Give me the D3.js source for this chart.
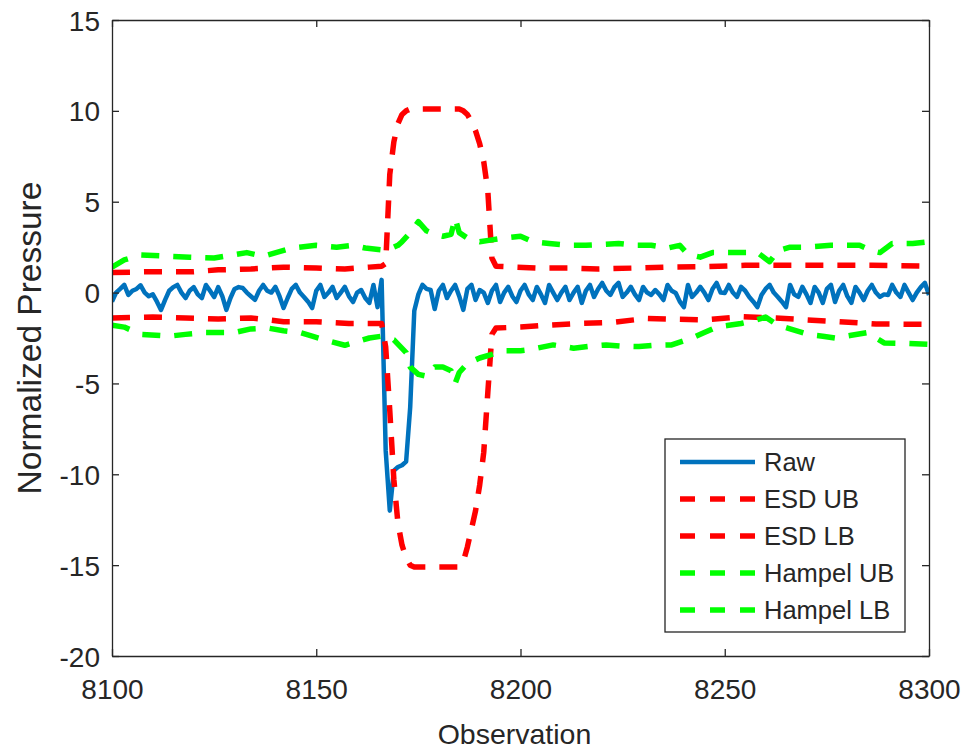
<!DOCTYPE html>
<html>
<head>
<meta charset="utf-8">
<script src="https://cdn.jsdelivr.net/npm/d3@7/dist/d3.min.js"></script>
<style>
  body { margin: 0; background: #fff; }
  svg text { font-family: "Liberation Sans", Arial, Helvetica, sans-serif; fill: #262626; }
  .axis path, .axis line { stroke: #262626; stroke-width: 1.3; }
</style>
</head>
<body>
<div id="chart"></div>
<script>

// observations 8100 .. 8300, one raw reading each
var startObs = 8100;

var rawValues = [
  -0.5, 0.0, 0.2, 0.42, -0.13, 0.1, 0.2, 0.4, 0.0, -0.2,
  -0.1, -0.5, -0.96, -0.4, 0.1, 0.3, 0.42, 0.0, -0.3, 0.1,
  0.3, -0.1, -0.3, 0.42, 0.1, -0.25, 0.3, -0.2, -0.95, -0.3,
  0.2, 0.3, 0.25, 0.0, -0.2, -0.4, 0.1, 0.42, 0.1, 0.0,
  0.31, -0.2, -0.85, -0.3, 0.2, 0.42, 0.0, -0.24, -0.5, -0.85,
  0.1, 0.42, -0.24, 0.0, 0.31, -0.3, 0.0, 0.31, -0.2, -0.52,
  0.0, 0.14, -0.3, -0.57, 0.42, -0.8, 0.7, -8.7, -12.0, -9.8,
  -9.6, -9.5, -9.3, -6.3, -1.0, -0.1, 0.42, 0.2, 0.14, -0.9,
  0.1, 0.42, -0.3, 0.1, 0.42, -0.2, -0.95, 0.2, 0.42, -0.41,
  0.14, 0.0, -0.57, 0.1, 0.42, -0.52, 0.0, 0.31, -0.2, -0.52,
  0.1, 0.42, -0.1, -0.41, 0.31, -0.1, -0.57, 0.42, 0.0, -0.41,
  0.0, 0.31, -0.41, 0.0, 0.31, -0.57, 0.1, 0.42, -0.24, 0.2,
  0.53, 0.1, -0.13, 0.3, 0.53, -0.24, 0.0, 0.31, -0.1, -0.41,
  0.31, 0.0, -0.13, 0.14, -0.1, -0.41, 0.42, 0.1, -0.02, -0.5,
  -0.8, 0.42, -0.24, 0.0, 0.31, 0.0, -0.41, 0.2, 0.53, 0.0,
  -0.02, 0.42, 0.0, -0.24, 0.31, 0.1, -0.24, -0.5, -0.8, -0.13,
  0.2, 0.42, 0.0, -0.24, -0.5, -0.8, 0.42, -0.1, -0.24, 0.31,
  -0.1, -0.57, 0.31, 0.0, -0.57, 0.2, 0.42, -0.52, 0.1, 0.42,
  -0.2, -0.57, 0.31, 0.0, -0.41, 0.1, 0.42, 0.0, -0.24, -0.1,
  -0.13, 0.42, 0.0, -0.24, 0.42, 0.0, -0.41, 0.0, 0.3, 0.53,
  -0.13
];

// bounds as [observation, value]
var esdUpper = [
  [8100, 1.1], [8110, 1.15], [8120, 1.15], [8126, 1.25], [8134, 1.3], [8142, 1.4],
  [8150, 1.35], [8157, 1.3], [8163, 1.4], [8166, 1.45], [8167, 1.6], [8168, 6.5],
  [8169, 8.3], [8170, 9.3], [8171, 9.8], [8172, 10.0], [8173, 10.1], [8185, 10.1],
  [8186, 10.0], [8187, 9.8], [8188, 9.4], [8189, 8.9], [8190, 8.2], [8191, 7.2],
  [8192, 5.6], [8193, 1.9], [8194, 1.45], [8204, 1.35], [8212, 1.35], [8219, 1.3],
  [8228, 1.35], [8235, 1.4], [8245, 1.42], [8255, 1.5], [8270, 1.5], [8286, 1.5],
  [8300, 1.45]
];

var esdLower = [
  [8100, -1.4], [8110, -1.35], [8118, -1.4], [8126, -1.45], [8134, -1.4], [8142, -1.6],
  [8150, -1.6], [8158, -1.7], [8166, -1.7], [8167, -3.0], [8168, -6.5], [8169, -10.3],
  [8170, -12.7], [8171, -13.9], [8172, -14.6], [8173, -15.0], [8174, -15.1], [8185, -15.1],
  [8186, -14.8], [8187, -14.0], [8188, -13.0], [8189, -12.0], [8190, -10.6], [8191, -8.8],
  [8192, -5.5], [8193, -2.3], [8194, -1.95], [8200, -1.9], [8206, -1.8], [8214, -1.7],
  [8222, -1.65], [8231, -1.42], [8238, -1.47], [8245, -1.5], [8254, -1.33], [8262, -1.4],
  [8270, -1.5], [8278, -1.6], [8287, -1.73], [8300, -1.75]
];

var hampelUpper = [
  [8100, 1.4], [8103, 1.8], [8107, 2.07], [8114, 2.0], [8119, 1.95], [8125, 1.9],
  [8133, 2.2], [8137, 2.0], [8144, 2.45], [8150, 2.6], [8155, 2.5], [8159, 2.6],
  [8162, 2.45], [8166, 2.35], [8168, 2.4], [8170, 2.6], [8171, 2.8], [8173, 3.3],
  [8175, 3.9], [8177, 3.4], [8179, 3.2], [8181, 3.1], [8183, 3.2], [8184, 4.1],
  [8185, 3.3], [8187, 3.0], [8190, 2.8], [8193, 2.9], [8196, 3.0], [8200, 3.1],
  [8203, 2.8], [8207, 2.7], [8212, 2.6], [8216, 2.6], [8220, 2.65], [8224, 2.7],
  [8228, 2.6], [8232, 2.6], [8236, 2.45], [8239, 2.6], [8241, 2.1], [8244, 1.95],
  [8247, 2.2], [8250, 2.2], [8254, 2.2], [8258, 2.2], [8261, 1.7], [8263, 2.3],
  [8266, 2.5], [8270, 2.5], [8276, 2.6], [8280, 2.6], [8283, 2.6], [8286, 2.3],
  [8288, 2.2], [8291, 2.7], [8296, 2.7], [8300, 2.8]
];

var hampelLower = [
  [8100, -1.8], [8103, -1.9], [8107, -2.3], [8114, -2.4], [8118, -2.3], [8123, -2.2],
  [8130, -2.2], [8134, -2.0], [8138, -1.95], [8142, -2.1], [8146, -2.2], [8149, -2.4],
  [8152, -2.6], [8157, -2.9], [8160, -2.7], [8163, -2.5], [8166, -2.4], [8169, -2.6],
  [8172, -3.3], [8173, -4.1], [8175, -4.5], [8177, -4.6], [8179, -4.1], [8181, -4.1],
  [8183, -4.3], [8184, -5.0], [8185, -4.4], [8187, -3.9], [8190, -3.6], [8193, -3.4],
  [8196, -3.2], [8200, -3.2], [8202, -3.15], [8208, -2.88], [8213, -3.06], [8217, -2.95],
  [8221, -2.88], [8225, -2.95], [8229, -2.97], [8233, -2.9], [8237, -2.88], [8242, -2.5],
  [8245, -2.2], [8248, -1.9], [8251, -1.8], [8254, -1.7], [8257, -1.55], [8260, -1.35],
  [8263, -1.8], [8266, -2.0], [8271, -2.33], [8274, -2.4], [8277, -2.5], [8281, -2.35],
  [8285, -2.2], [8287, -2.5], [8289, -2.77], [8295, -2.8], [8300, -2.85]
];

var seriesNames = ["Raw", "ESD UB", "ESD LB", "Hampel UB", "Hampel LB"];
var xTicks = [8100, 8150, 8200, 8250, 8300];
var yTicks = [-20, -15, -10, -5, 0, 5, 10, 15];

var width = 971, height = 755;
var margin = { top: 20, right: 42, bottom: 99, left: 112 };
var plotW = width - margin.left - margin.right;
var plotH = height - margin.top - margin.bottom;

var x = d3.scaleLinear().domain([8100, 8300]).range([0, plotW]);
var y = d3.scaleLinear().domain([-20, 15]).range([plotH, 0]);

// matlab style labels: plain hyphen for negatives
var plain = function (d) { return String(d); };

var svg = d3.select("#chart")
  .append("svg")
    .attr("width", width)
    .attr("height", height)
  .append("g")
    .attr("transform", "translate(" + margin.left + "," + margin.top + ")");

svg.append("clipPath")
    .attr("id", "plotclip")
  .append("rect")
    .attr("width", plotW)
    .attr("height", plotH);

var rawPoints = rawValues.map(function (v, i) { return [startObs + i, v]; });

var series = [
  { name: seriesNames[0], data: rawPoints,   color: "#0072BD", width: 4.5, dash: null },
  { name: seriesNames[1], data: esdUpper,    color: "#FF0000", width: 5.5, dash: "18,14" },
  { name: seriesNames[2], data: esdLower,    color: "#FF0000", width: 5.5, dash: "18,14" },
  { name: seriesNames[3], data: hampelUpper, color: "#00FF00", width: 5.5, dash: "18,14" },
  { name: seriesNames[4], data: hampelLower, color: "#00FF00", width: 5.5, dash: "18,14" }
];

var line = d3.line()
  .x(function (d) { return x(d[0]); })
  .y(function (d) { return y(d[1]); });

var lines = svg.append("g").attr("clip-path", "url(#plotclip)");
series.forEach(function (s) {
  lines.append("path")
    .datum(s.data)
    .attr("fill", "none")
    .attr("stroke", s.color)
    .attr("stroke-width", s.width)
    .attr("stroke-linejoin", "round")
    .attr("stroke-dasharray", s.dash)
    .attr("d", line);
});

// axes, ticks pointing inward on all four sides (box on)
var fontSize = 28;

var gx = svg.append("g")
  .attr("class", "axis")
  .attr("transform", "translate(0," + plotH + ")")
  .call(d3.axisBottom(x).tickValues(xTicks).tickSize(-7).tickSizeOuter(0).tickPadding(23).tickFormat(plain));
gx.selectAll("text").attr("font-size", fontSize);

var gy = svg.append("g")
  .attr("class", "axis")
  .call(d3.axisLeft(y).tickValues(yTicks).tickSize(-7).tickSizeOuter(0).tickPadding(12).tickFormat(plain));
gy.selectAll("text").attr("font-size", fontSize).attr("dy", "0.36em");

svg.append("g")
  .attr("class", "axis")
  .call(d3.axisTop(x).tickValues(xTicks).tickSize(-7).tickSizeOuter(0).tickFormat(""));

svg.append("g")
  .attr("class", "axis")
  .attr("transform", "translate(" + plotW + ",0)")
  .call(d3.axisRight(y).tickValues(yTicks).tickSize(-7).tickSizeOuter(0).tickFormat(""));

svg.selectAll(".axis text").attr("font-family", null);

svg.append("text")
  .attr("x", plotW / 2 - 6)
  .attr("y", plotH + 88)
  .attr("text-anchor", "middle")
  .attr("font-size", 28.5)
  .text("Observation");

svg.append("text")
  .attr("transform", "translate(" + (-71) + "," + (plotH / 2) + ") rotate(-90)")
  .attr("text-anchor", "middle")
  .attr("font-size", 33.5)
  .text("Normalized Pressure");

// legend
var legend = svg.append("g")
  .attr("transform", "translate(" + (665 - margin.left) + "," + (439 - margin.top) + ")");

legend.append("rect")
  .attr("width", 240)
  .attr("height", 193)
  .attr("fill", "#fff")
  .attr("stroke", "#262626")
  .attr("stroke-width", 1.3);

var rows = legend.selectAll("g.row")
  .data(series)
  .enter().append("g")
    .attr("class", "row")
    .attr("transform", function (d, i) { return "translate(0," + (23 + i * 37) + ")"; });

rows.append("line")
  .attr("x1", 15)
  .attr("x2", 90)
  .attr("stroke", function (d) { return d.color; })
  .attr("stroke-width", function (d) { return d.width; })
  .attr("stroke-dasharray", function (d) { return d.dash ? "15,15" : null; });

rows.append("text")
  .attr("x", 99)
  .attr("dy", "0.36em")
  .attr("font-size", 25.5)
  .text(function (d) { return d.name; });

</script>
</body>
</html>
